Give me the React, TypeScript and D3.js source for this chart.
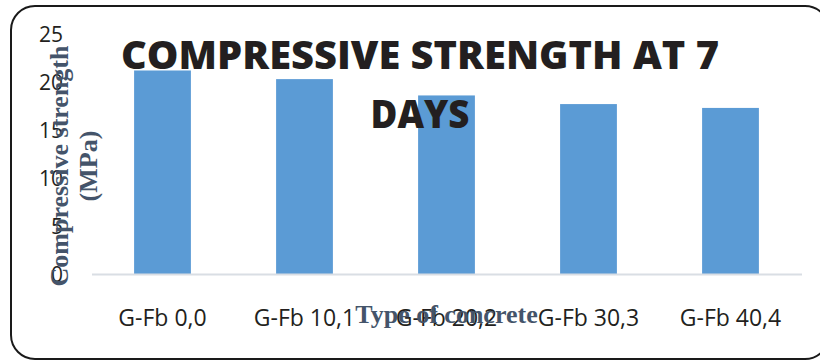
import React, { useEffect, useRef } from 'react';
import * as d3 from 'd3';

// Mix codes and their 7-day compressive strength (MPa)
const mixes = ['G-Fb 0,0', 'G-Fb 10,1', 'G-Fb 20,2', 'G-Fb 30,3', 'G-Fb 40,4'];
const strength7d = [21.2, 20.3, 18.6, 17.7, 17.3];
const yTicks = [0, 5, 10, 15, 20, 25];
const titleLines = ['COMPRESSIVE STRENGTH AT 7', 'DAYS'];
const yTitleLines = ['Compressive strength', '(MPa)'];
const xTitle = 'Type of concrete';

const App = () => {
    const svgRef = useRef<SVGSVGElement | null>(null);

    useEffect(() => {
        const width = 820;
        const height = 360;
        const left = 91.5;
        const right = 801.5;
        const baseY = 274;
        const topY = 34;

        const svg = d3.select(svgRef.current);
        svg.selectAll('*').remove();
        svg.attr('width', width).attr('height', height);

        // frame around the whole chart
        svg.append('rect')
            .attr('x', 11)
            .attr('y', 6)
            .attr('width', 818)
            .attr('height', 353)
            .attr('rx', 24)
            .attr('ry', 24)
            .attr('fill', '#fff')
            .attr('stroke', '#1a1a1a')
            .attr('stroke-width', 2);

        const x = d3.scaleBand<string>()
            .domain(mixes)
            .range([left, right])
            .paddingInner(0.6)
            .paddingOuter(0.3);

        const y = d3.scaleLinear()
            .domain([0, 25])
            .range([baseY, topY]);

        // y tick labels (no axis line, no gridlines)
        svg.append('g')
            .selectAll('text')
            .data(yTicks)
            .join('text')
            .attr('x', 63)
            .attr('y', d => y(d) + 8)
            .attr('text-anchor', 'end')
            .style('font-family', '"Open Sans", sans-serif')
            .style('font-size', '21px')
            .style('fill', '#231f20')
            .text(d => d);

        // bars
        svg.append('g')
            .selectAll('rect')
            .data(strength7d)
            .join('rect')
            .attr('x', (d, i) => x(mixes[i]) as number)
            .attr('y', d => y(d))
            .attr('width', x.bandwidth())
            .attr('height', d => baseY - y(d))
            .attr('fill', '#5b9bd5');

        // category axis
        const xAxis = svg.append('g')
            .attr('transform', `translate(0, ${baseY})`)
            .call(d3.axisBottom(x).tickSize(0).tickPadding(0));
        xAxis.select('.domain')
            .attr('stroke', '#d9dee4')
            .attr('stroke-width', 2);
        xAxis.selectAll('.tick text')
            .attr('y', 52)
            .attr('dy', null)
            .style('font-family', '"Open Sans", sans-serif')
            .style('font-size', '23px')
            .style('fill', '#231f20');

        // axis titles
        const yTitle = svg.append('g')
            .attr('transform', 'translate(0, 166) rotate(-90)');
        yTitleLines.forEach((line, i) => {
            yTitle.append('text')
                .attr('x', 0)
                .attr('y', 68 + i * 29)
                .attr('text-anchor', 'middle')
                .style('font-family', '"Liberation Serif", serif')
                .style('font-weight', 'bold')
                .style('font-size', '26px')
                .style('fill', '#44546a')
                .text(line);
        });

        svg.append('text')
            .attr('x', (left + right) / 2)
            .attr('y', 323)
            .attr('text-anchor', 'middle')
            .style('font-family', '"Liberation Serif", serif')
            .style('font-weight', 'bold')
            .style('font-size', '26px')
            .style('fill', '#44546a')
            .text(xTitle);

        // chart title sits on top of the bars
        const titleLens = [598, 99];
        titleLines.forEach((line, i) => {
            svg.append('text')
                .attr('x', 420)
                .attr('y', 69 + i * 59)
                .attr('text-anchor', 'middle')
                .attr('textLength', titleLens[i])
                .attr('lengthAdjust', 'spacingAndGlyphs')
                .style('font-family', '"Open Sans", sans-serif')
                .style('font-weight', 800)
                .style('font-size', '39px')
                .style('fill', '#231f20')
                .text(line);
        });
    }, []);

    return (
        <div style={{ position: 'absolute', left: 0, top: 0 }}>
            <svg ref={svgRef} style={{ display: 'block' }}></svg>
        </div>
    );
};

export default App;
